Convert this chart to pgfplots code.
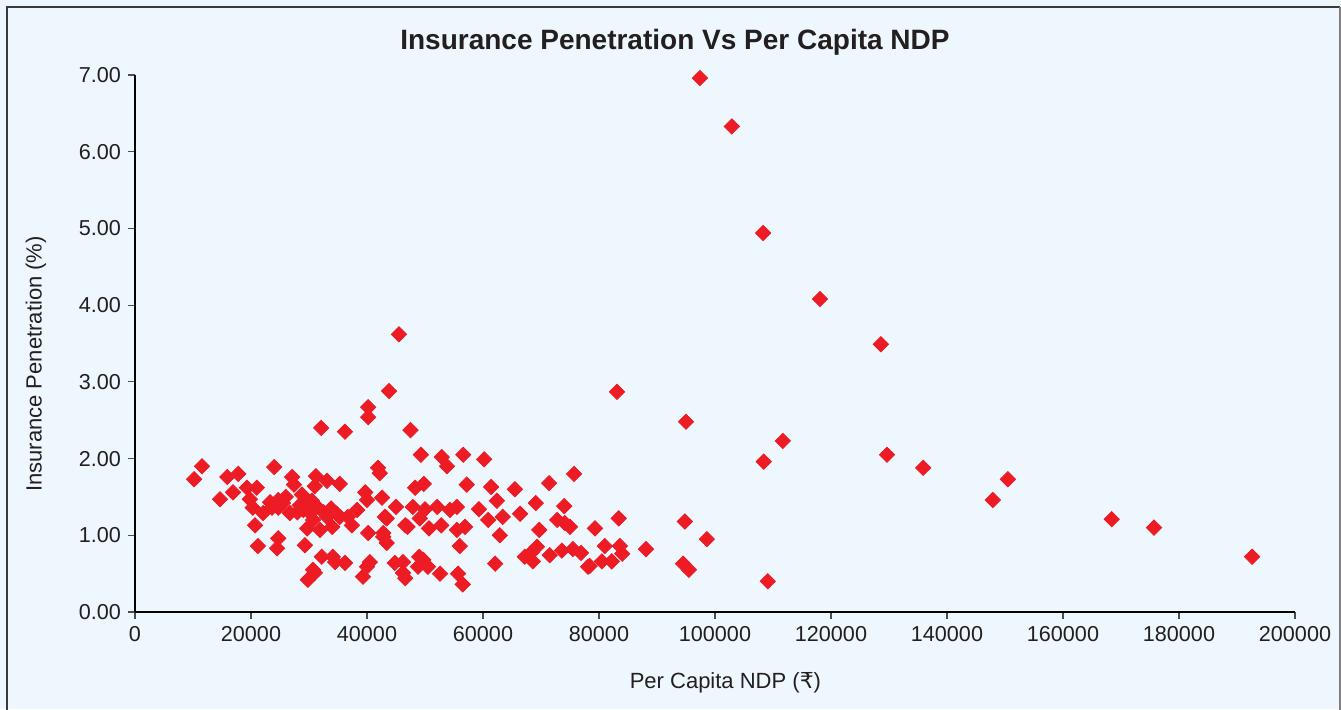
\documentclass[border=0pt]{standalone}
\usepackage{pgfplots}
\pgfplotsset{compat=1.18}
\usepackage{pgfplotstable}
\usepackage{fontspec}
\setmainfont{Liberation Sans}
\newfontfamily\rupeefont{DejaVu Sans}
\definecolor{bgblue}{HTML}{EFF7FE}
\definecolor{ptred}{HTML}{ED1C24}
\definecolor{txt}{HTML}{231F20}
\definecolor{framegray}{HTML}{3A3A3A}

\pgfplotstableread{
x y
97400 6.96
102900 6.33
108300 4.94
118100 4.08
128600 3.49
129650 2.05
135900 1.88
147900 1.46
150500 1.73
168400 1.21
175700 1.10
192600 0.72
111700 2.23
108400 1.96
109100 0.40
95000 2.48
83100 2.87
45500 3.62
43800 2.88
40200 2.67
40200 2.54
32100 2.40
36200 2.35
47500 2.37
79300 1.09
83400 1.22
81000 0.86
83600 0.86
84000 0.76
80500 0.66
82200 0.66
78400 0.60
88100 0.82
94800 1.18
98600 0.95
94500 0.63
95500 0.55
49300 2.05
52900 2.02
53800 1.90
56600 2.05
60200 1.99
75700 1.80
48300 1.62
49800 1.67
57200 1.66
61400 1.63
65500 1.60
71400 1.68
42600 1.49
45000 1.37
47900 1.37
50000 1.34
52100 1.37
54300 1.33
55500 1.37
59300 1.34
62400 1.45
69100 1.42
74000 1.38
43400 1.22
49100 1.22
46600 1.13
47000 1.11
50700 1.09
52800 1.13
55500 1.07
56900 1.11
60900 1.20
63400 1.24
66400 1.28
72800 1.20
74100 1.16
75000 1.11
69700 1.07
62900 1.00
42800 0.98
43400 0.90
56000 0.86
69300 0.85
68400 0.78
67200 0.72
68600 0.66
71500 0.74
73600 0.80
75500 0.82
76900 0.77
78100 0.59
62100 0.63
44800 0.64
46200 0.65
46200 0.51
46600 0.44
49000 0.72
48800 0.59
50500 0.59
52600 0.50
55700 0.50
56500 0.36
49700 0.68
11550 1.90
10200 1.73
24000 1.89
15900 1.76
17800 1.80
14650 1.47
16900 1.56
19300 1.62
21000 1.62
19800 1.47
20300 1.36
22100 1.29
20700 1.13
21200 0.86
24700 0.96
24500 0.83
27100 1.76
27400 1.66
31200 1.77
33100 1.71
35300 1.67
31000 1.64
24700 1.46
23300 1.43
23600 1.36
24700 1.36
25500 1.42
26700 1.29
28400 1.39
28800 1.53
29800 1.42
30200 1.29
31400 1.37
30700 1.20
29700 1.09
31900 1.07
33100 1.24
34000 1.11
35300 1.24
36700 1.24
37400 1.13
38300 1.33
39700 1.56
40000 1.46
43100 1.24
41900 1.88
42200 1.81
40200 1.03
42800 1.03
40000 0.59
40500 0.65
39300 0.46
29300 0.87
32200 0.72
34100 0.72
34500 0.65
36200 0.64
30700 0.55
29800 0.42
31000 0.51
29000 1.33
32500 1.30
34800 1.28
28000 1.30
26000 1.50
30500 1.45
33800 1.35
}\ndpdata

\begin{document}
\begin{tikzpicture}
\fill[bgblue] (-67.5pt,-48.5pt) rectangle (603pt,306pt);
\draw[line width=1pt, framegray] (-64pt,-60pt) -- (-64pt,302.5pt) -- (602.5pt,302.5pt);
\draw[line width=1pt, gray] (602.5pt,302.5pt) -- (602.5pt,-60pt);
\begin{axis}[
  scale only axis,
  width=580pt, height=268.5pt,
  xmin=0, xmax=200000, ymin=0, ymax=7,
  axis x line=bottom, axis y line=left,
  axis line style={-, line width=1pt, black},
  xtick={0,20000,...,200000},
  ytick={0,1,...,7},
  scaled x ticks=false,
  scaled y ticks=false,
  tick align=outside,
  major tick length=3.5pt,
  tick style={line width=0.6pt, black!70},
  /pgf/number format/assume math mode=true,
  xticklabel style={/pgf/number format/.cd, fixed, precision=0, 1000 sep={}, /tikz/.cd, font=\fontsize{10.8}{12}\selectfont, text=txt},
  yticklabel style={/pgf/number format/.cd, fixed, fixed zerofill, precision=2, /tikz/.cd, font=\fontsize{10.8}{12}\selectfont, text=txt},
  xlabel={Per Capita NDP ({\rupeefont ₹})},
  ylabel={Insurance Penetration (\%)},
  label style={font=\fontsize{11}{13}\selectfont, text=txt},
  xlabel style={at={(axis description cs:0.509,-0.132)}, anchor=center},
  ylabel style={at={(axis description cs:-0.0853,0.462)}, anchor=center},
  title={Insurance Penetration Vs Per Capita NDP},
  title style={at={(axis description cs:0.4655,1.038)}, anchor=center, font=\bfseries\fontsize{14}{16}\selectfont, text=txt},
  clip=false,
]
\addplot[only marks, mark=square*, mark size=2.7pt, mark options={rotate=45, fill=ptred, draw=ptred}] table[x=x, y=y] {\ndpdata};
\end{axis}
\pgfresetboundingbox
\useasboundingbox (-67.5pt,-48.5pt) rectangle (603pt,306pt);
\end{tikzpicture}
\end{document}
